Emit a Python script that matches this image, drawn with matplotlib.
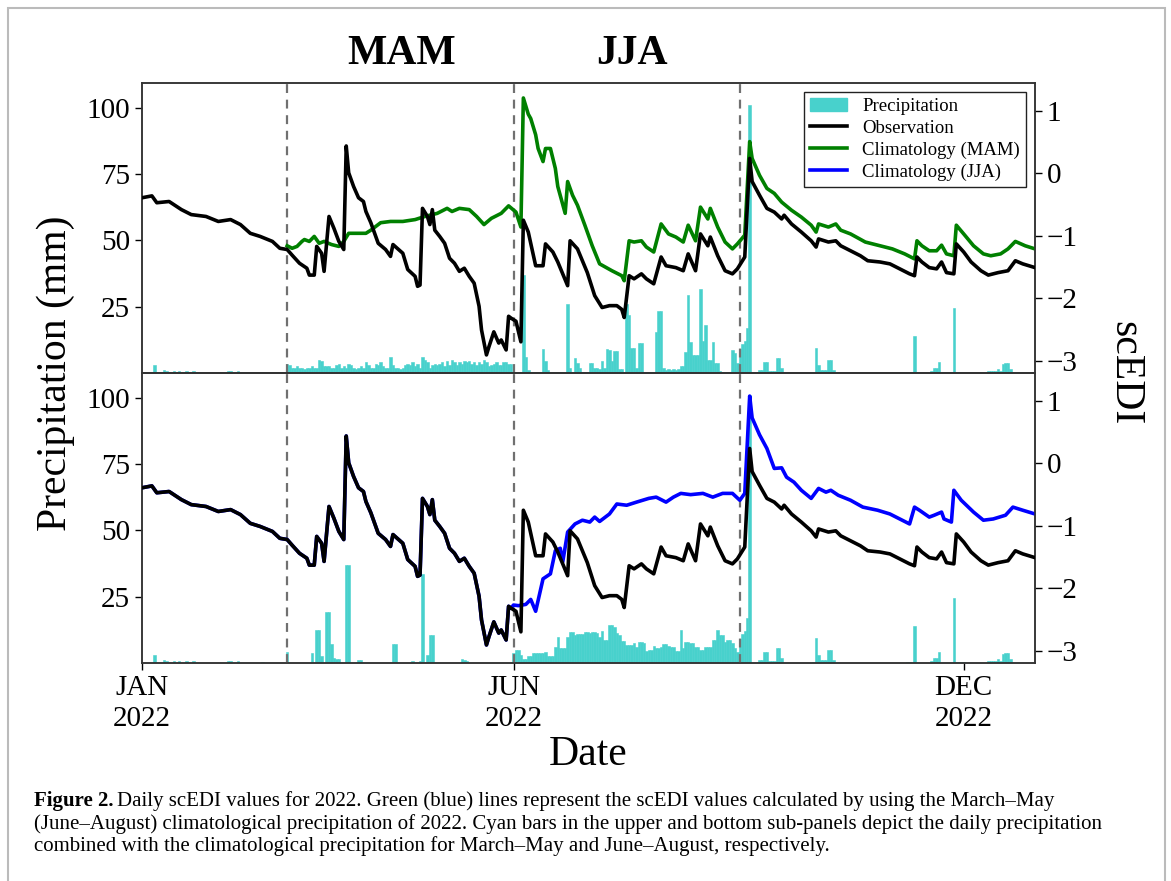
import numpy as np
import pandas as pd
import matplotlib
matplotlib.use("Agg")
import matplotlib.pyplot as plt
from matplotlib.patches import Patch, Rectangle
from matplotlib.lines import Line2D

plt.rcParams['font.family'] = ['Liberation Serif', 'DejaVu Serif']

# ---- data (day of year 2022, 0 = Jan 1) ----
# observed daily precipitation (mm), only days with rain
rain_days = [5, 9, 10, 13, 15, 18, 21, 35, 36, 39, 49,
             59, 69, 71, 72, 73, 75, 76, 77, 78, 79, 80, 83, 84, 88, 89, 102, 103, 110,
             113, 114, 116, 117, 118, 130, 131, 132,
             155, 156, 157, 163, 164, 165, 173, 174, 176, 177, 178, 182, 183, 184, 185, 186,
             187, 188, 189, 190, 191, 192, 193, 194, 195, 197, 198, 199, 200, 201, 202, 203,
             209, 210, 211, 212, 213, 214, 215, 216, 217, 218, 219, 220, 221, 222, 223, 224,
             225, 226, 227, 228, 229, 230, 231, 232, 233, 234, 235, 240, 241,
             242, 243, 244, 245, 246, 247, 251, 252, 253, 254, 255, 256, 257, 258, 259, 260,
             273, 274, 275, 276, 277, 278, 279, 280, 281, 311, 312, 314, 321, 322, 323, 324,
             330, 331, 332, 333, 334, 344, 345, 346, 347, 348, 349, 350, 351, 352, 353]
rain_mm = [2.9, 1.0, 0.8, 0.8, 0.6, 0.6, 0.6, 0.6, 0.6, 0.6, 0.5,
           4.0, 3.8, 12.6, 12.6, 2.5, 19.3, 19.3, 7.0, 2.0, 1.5, 1.5, 37.0, 37.0, 1.0, 1.0, 7.3, 7.3, 0.7,
           0.8, 33.5, 3.0, 10.6, 10.6, 1.5, 1.2, 0.8,
           37.0, 6.2, 1.2, 9.0, 4.6, 1.2, 26.0, 2.0, 5.6, 3.7, 2.0, 3.7, 3.7, 2.0, 2.0, 1.5,
           4.6, 1.8, 9.0, 8.5, 4.4, 8.3, 8.3, 1.6, 1.6, 26.0, 21.8, 9.6, 9.6, 1.8, 11.2, 11.2,
           15.5, 23.3, 23.3, 2.0, 1.2, 1.5, 1.0, 1.5, 1.2, 1.5, 2.5, 2.5, 8.0, 29.5, 11.8, 6.8,
           6.8, 6.8, 31.5, 12.0, 18.0, 5.0, 5.0, 11.8, 3.7, 3.7, 0.6, 8.7, 7.5,
           3.7, 9.0, 11.0, 12.0, 17.0, 101.0, 1.0, 1.0, 4.0, 4.0, 0.6, 0.6, 0.6, 5.6, 5.6, 2.0,
           0.4, 9.6, 3.0, 1.2, 1.0, 1.0, 5.0, 5.0, 1.2, 0.4, 0.4, 14.0, 0.6, 2.0, 2.0, 4.0,
           24.5, 0.4, 0.4, 0.4, 0.4, 0.6, 0.6, 0.6, 0.6, 1.6, 0.6, 3.4, 3.6, 3.6, 1.5]

# climatological precipitation, Mar 1 - May 31 (mm)
mam_clim = [3.5, 3, 2, 2, 2.5, 2, 2, 1.5, 2, 2, 2.5, 2, 2, 5, 4.5, 2.5, 2.5, 2.5, 2, 2,
            3, 3.5, 2, 2.5, 2, 3.5, 3, 2, 1.5, 2, 2.5,
            2, 4, 3, 2, 2, 3.5, 3, 4, 2.5, 2, 2, 6, 3, 2, 2, 1.5, 2, 3, 3.5, 3,
            4, 2.5, 3.5, 2, 6, 5, 4, 2, 3, 3.5,
            3, 3.5, 4, 2.5, 4.5, 3, 5, 4, 3, 4, 3.5, 4.5, 4, 4.5, 3.5, 4, 3, 4, 3.5, 5,
            4, 2.5, 3, 3.5, 4, 3, 3, 4, 4, 3.5, 3.5]
# climatological precipitation, Jun 1 - Aug 31 (mm)
jja_clim = [3.7, 5.0, 5.0, 3.0, 1.6, 1.6, 2.5, 2.5, 3.7, 3.7,
            3.7, 3.7, 3.7, 4.1, 2.5, 2.5, 2.5, 6.0, 10.0, 5.6,
            5.6, 5.6, 10.0, 11.6, 11.6, 10.6, 10.8, 10.8, 11.0, 11.8,
            11.8, 11.5, 11.6, 11.6, 11.2, 10.0, 12.0, 8.7, 8.7, 14.5,
            14.5, 13.7, 11.2, 10.6, 8.3, 8.3, 6.8, 6.8, 6.8, 7.5,
            6.2, 7.8, 7.8, 7.5, 4.4, 5.0, 5.0, 6.6, 5.6, 5.6,
            6.2, 7.0, 7.0, 6.5, 6.2, 6.2, 4.6, 4.6, 12.4, 5.8,
            8.0, 8.0, 7.5, 7.5, 6.2, 6.2, 5.0, 5.0, 6.2, 6.2,
            6.0, 8.7, 8.7, 12.4, 10.6, 10.6, 8.0, 8.7, 8.7, 7.5,
            5.6, 4.0]

# scEDI, observation
obs_days = [0, 4, 6, 11, 16, 20, 26, 31, 36, 40, 44, 48, 53, 56, 59, 61, 64, 67, 68, 70,
            71, 73, 74, 76, 78, 80, 82, 83, 84, 86, 88, 90, 91, 93, 96, 99, 101, 102, 106, 108,
            111, 112, 113, 114, 116, 117, 118, 119, 121, 123, 125, 127, 129, 131, 133, 135, 137, 138, 140, 141,
            143, 145, 146, 148, 149, 150, 152, 154, 155, 157, 160, 163, 164, 167, 169, 173, 174, 177, 181, 184,
            187, 190, 193, 195, 196, 198, 200, 203, 205, 208, 211, 213, 217, 220, 222, 225, 227, 230, 231, 234,
            237, 240, 242, 245, 247, 248, 251, 254, 257, 260, 261, 264, 268, 272, 274, 275, 279, 282, 284, 288,
            292, 295, 300, 304, 308, 312, 314, 315, 317, 320, 323, 325, 327, 330, 331, 334, 337, 341, 344, 348,
            352, 355, 358, 363]
obs_edi = [-0.39, -0.36, -0.47, -0.45, -0.58, -0.66, -0.69, -0.77, -0.74, -0.82, -0.96, -1.01, -1.09, -1.20, -1.22, -1.31, -1.44, -1.52, -1.63, -1.63,
           -1.17, -1.28, -1.57, -0.69, -0.88, -1.09, -1.22, 0.44, 0.01, -0.21, -0.39, -0.45, -0.61, -0.79, -1.12, -1.22, -1.33, -1.14, -1.28, -1.54,
           -1.65, -1.81, -1.79, -0.56, -0.69, -0.82, -0.58, -0.91, -1.01, -1.12, -1.36, -1.44, -1.57, -1.52, -1.65, -1.76, -2.13, -2.51, -2.91, -2.78,
           -2.54, -2.72, -2.67, -2.83, -2.29, -2.32, -2.37, -2.70, -0.75, -0.94, -1.48, -1.48, -1.13, -1.26, -1.42, -1.80, -1.08, -1.21, -1.59, -1.96,
           -2.15, -2.12, -2.12, -2.18, -2.31, -1.64, -1.69, -1.61, -1.69, -1.77, -1.34, -1.48, -1.51, -1.56, -1.29, -1.56, -0.97, -1.16, -1.02, -1.32,
           -1.56, -1.61, -1.53, -1.34, 0.24, -0.13, -0.35, -0.56, -0.62, -0.73, -0.67, -0.81, -0.94, -1.08, -1.18, -1.05, -1.10, -1.08, -1.16, -1.24,
           -1.32, -1.40, -1.42, -1.45, -1.53, -1.61, -1.64, -1.34, -1.42, -1.51, -1.53, -1.42, -1.59, -1.61, -1.13, -1.26, -1.42, -1.56, -1.63, -1.59,
           -1.56, -1.40, -1.45, -1.51]

# scEDI with MAM climatology
mam_days = [59, 61, 63, 65, 66, 68, 70, 72, 74, 77, 80, 82, 84, 87, 91, 93, 97, 101, 106, 111,
            115, 120, 124, 126, 129, 133, 136, 139, 142, 146, 149, 152, 154, 155, 157, 158, 160, 161, 163, 164,
            166, 168, 169, 172, 173, 175, 177, 180, 183, 186, 191, 195, 196, 198, 200, 203, 205, 208, 211, 214,
            217, 220, 222, 225, 227, 230, 231, 234, 237, 240, 242, 245, 247, 248, 251, 254, 257, 260, 264, 268,
            272, 274, 275, 279, 282, 284, 288, 294, 300, 305, 310, 314, 315, 317, 320, 323, 325, 327, 330, 331,
            334, 338, 342, 345, 349, 352, 355, 359, 363]
mam_edi = [-1.16, -1.20, -1.17, -1.09, -1.06, -1.09, -1.01, -1.12, -1.09, -1.14, -1.17, -1.09, -0.96, -0.96, -0.96, -0.91, -0.79, -0.77, -0.77, -0.74,
           -0.69, -0.64, -0.56, -0.61, -0.56, -0.58, -0.69, -0.82, -0.72, -0.64, -0.52, -0.62, -0.86, 1.21, 0.95, 0.88, 0.62, 0.40, 0.19, 0.40,
           0.40, 0.08, -0.21, -0.64, -0.13, -0.35, -0.51, -0.83, -1.16, -1.45, -1.56, -1.64, -1.72, -1.08, -1.10, -1.08, -1.18, -1.26, -0.81, -0.97,
           -1.02, -1.10, -0.83, -1.08, -0.54, -0.73, -0.56, -0.86, -1.10, -1.21, -1.13, -0.99, 0.51, 0.24, -0.03, -0.24, -0.32, -0.46, -0.59, -0.70,
           -0.83, -0.94, -0.81, -0.86, -0.81, -0.91, -0.97, -1.10, -1.16, -1.21, -1.29, -1.37, -1.08, -1.16, -1.24, -1.24, -1.15, -1.29, -1.32, -0.83,
           -0.97, -1.16, -1.29, -1.32, -1.29, -1.21, -1.09, -1.16, -1.21]

# scEDI with JJA climatology (same as observation before June)
jja_days = [151, 153, 156, 158, 160, 163, 166, 168, 170, 171, 173, 176, 179, 182, 184, 186, 190, 193, 197, 201,
            206, 209, 213, 216, 219, 223, 228, 232, 236, 240, 243, 245, 247, 248, 251, 254, 257, 260, 262, 265,
            268, 272, 275, 278, 280, 283, 288, 293, 299, 304, 309, 312, 314, 316, 320, 322, 325, 326, 329, 330,
            333, 338, 342, 346, 351, 354, 358, 363]
jja_edi = [-2.27, -2.28, -2.26, -2.18, -2.37, -1.85, -1.77, -1.40, -1.36, -1.58, -1.10, -0.97, -0.91, -0.94, -0.86, -0.93, -0.81, -0.65, -0.67, -0.62,
           -0.56, -0.54, -0.62, -0.54, -0.48, -0.50, -0.48, -0.54, -0.48, -0.48, -0.59, -0.48, 1.08, 0.73, 0.46, 0.24, -0.08, -0.07, -0.22, -0.30,
           -0.43, -0.56, -0.40, -0.46, -0.43, -0.51, -0.59, -0.70, -0.75, -0.81, -0.91, -0.97, -0.70, -0.75, -0.86, -0.83, -0.78, -0.89, -0.94, -0.43,
           -0.59, -0.78, -0.91, -0.89, -0.83, -0.70, -0.75, -0.81]

season_lines = ["2022-03-01", "2022-06-01", "2022-09-01"]
tick_dates = ["2022-01-01", "2022-06-01", "2022-12-01"]
tick_labels = ["JAN\n2022", "JUN\n2022", "DEC\n2022"]

# ---- build series ----
start = pd.Timestamp("2022-01-01")


def to_date(days):
    return start + pd.to_timedelta(np.asarray(days), unit="D")


daily = np.zeros(365)
daily[rain_days] = rain_mm
precip_top = daily.copy()
precip_top[59:151] = mam_clim
precip_bot = daily.copy()
precip_bot[151:243] = jja_clim
all_dates = to_date(np.arange(365))

pre_jun = [i for i, d in enumerate(obs_days) if d < 151]
blue_days = [obs_days[i] for i in pre_jun] + jja_days
blue_edi = [obs_edi[i] for i in pre_jun] + jja_edi

CYAN = "mediumturquoise"
TICK_FS = 21

fig = plt.figure(figsize=(11.71, 8.81), dpi=100)
ax_top = fig.add_axes([0.1213, 0.5766, 0.7626, 0.3292])
ax_bot = fig.add_axes([0.1213, 0.2474, 0.7626, 0.3292], sharex=ax_top)

panels = [(ax_top, precip_top, mam_days, mam_edi, "green"),
          (ax_bot, precip_bot, blue_days, blue_edi, "blue")]

for ax, precip, cdays, cvals, ccol in panels:
    ax.bar(all_dates, precip, width=1.0, color=CYAN, edgecolor=CYAN, lw=0.4, zorder=1)
    for d in season_lines:
        ax.axvline(pd.Timestamp(d), color="#707070", ls=(0, (4, 3)), lw=1.6, zorder=3)
    ax.set_ylim(0, 109.3)
    ax.set_yticks([25, 50, 75, 100])
    ax2 = ax.twinx()
    ax2.plot(to_date(cdays), cvals, color=ccol, lw=2.6, zorder=2)
    ax2.plot(to_date(obs_days), obs_edi, color="black", lw=2.6, zorder=3)
    ax2.set_ylim(-3.2, 1.45)
    ax2.set_yticks([-3, -2, -1, 0, 1])
    for a in (ax, ax2):
        a.tick_params(labelsize=TICK_FS, direction="out", length=5, width=1)
        for s in a.spines.values():
            s.set_linewidth(1.1)
            s.set_color("#333333")
    if ax is ax_top:
        handles = [Patch(color=CYAN, label="Precipitation"),
                   Line2D([], [], color="black", lw=2.6, label="Observation"),
                   Line2D([], [], color="green", lw=2.6, label="Climatology (MAM)"),
                   Line2D([], [], color="blue", lw=2.6, label="Climatology (JJA)")]
        leg = ax2.legend(handles=handles, loc="upper right", fontsize=13.5,
                         fancybox=False, framealpha=1, edgecolor="#222222",
                         handlelength=2.0, borderpad=0.3, labelspacing=0.25)
        leg.get_frame().set_linewidth(1.0)

ax_top.set_xlim(start, start + pd.Timedelta(days=363))
ax_bot.set_xticks(pd.to_datetime(tick_dates))
ax_bot.set_xticklabels(tick_labels, fontsize=TICK_FS, linespacing=1.25)
ax_top.tick_params(axis="x", length=0, labelbottom=False)

fig.text(0.048, 0.5766, "Precipitation (mm)", rotation=90, fontsize=30,
         ha="center", va="center")
fig.text(0.9607, 0.5766, "scEDI", rotation=270, fontsize=30,
         ha="center", va="center")
fig.text(0.502, 0.143, "Date", fontsize=30, ha="center", va="center")
fig.text(0.3433, 0.939, "MAM", fontsize=30, fontweight="bold", ha="center", va="center")
fig.text(0.5397, 0.939, "JJA", fontsize=30, fontweight="bold", ha="center", va="center")

# caption
cap_x = 34 / 1171
cap_fs = 15
head = fig.text(cap_x, 0.0851, "Figure 2.", fontsize=cap_fs, fontweight="bold", va="baseline")
fig.canvas.draw()
bb = head.get_window_extent(fig.canvas.get_renderer())
fig.text(bb.x1 / fig.bbox.width + 0.003, 0.0851,
         "Daily scEDI values for 2022. Green (blue) lines represent the scEDI values calculated by using the March\u2013May",
         fontsize=cap_fs, va="baseline")
fig.text(cap_x, 0.0590,
         "(June\u2013August) climatological precipitation of 2022. Cyan bars in the upper and bottom sub-panels depict the daily precipitation",
         fontsize=cap_fs, va="baseline")
fig.text(cap_x, 0.0340,
         "combined with the climatological precipitation for March\u2013May and June\u2013August, respectively.",
         fontsize=cap_fs, va="baseline")

# page frame
fig.patches.append(Rectangle((8 / 1171, -0.02), (1165 - 8) / 1171, 1.02 - 8 / 881,
                             transform=fig.transFigure, fill=False,
                             edgecolor="#bbbbbb", lw=1.5))

fig.savefig("out.png", dpi=100)
